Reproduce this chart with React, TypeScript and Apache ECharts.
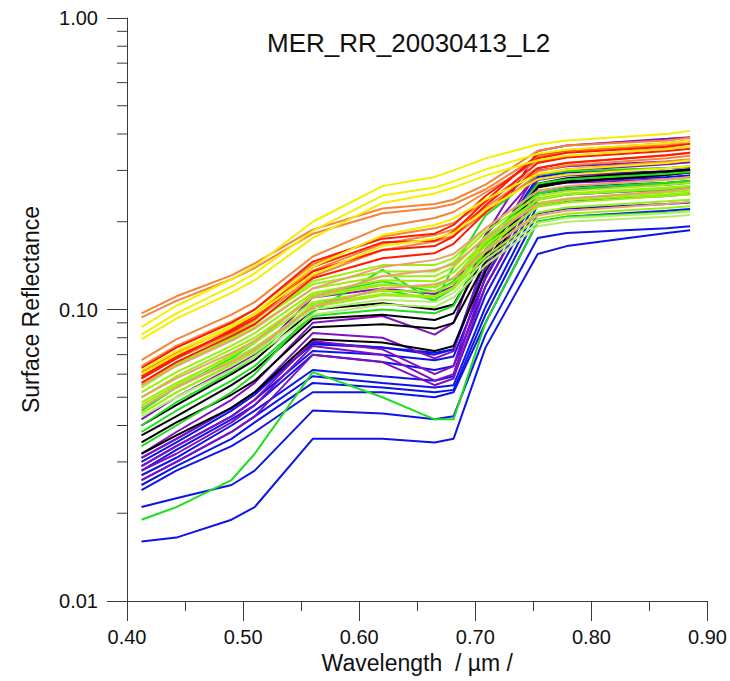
import React, { useEffect, useRef } from "react";
import * as echarts from "echarts";

// MERIS band centres (µm)
const wavelengths = [0.4125, 0.4425, 0.49, 0.51, 0.56, 0.62, 0.665, 0.68125, 0.70875, 0.75375, 0.77875, 0.865, 0.885];

const xTickValues = [0.4, 0.5, 0.6, 0.7, 0.8, 0.9];
const yTickValues = [0.01, 0.1, 1.0];
const yMinorTicks = [0.02, 0.03, 0.04, 0.05, 0.06, 0.07, 0.08, 0.09, 0.2, 0.3, 0.4, 0.5, 0.6, 0.7, 0.8, 0.9];

const blueSpectra = [
  [0.030, 0.035, 0.045, 0.051, 0.077, 0.074, 0.071, 0.073, 0.140, 0.280, 0.290, 0.298, 0.302],
  [0.029, 0.034, 0.043, 0.049, 0.072, 0.070, 0.067, 0.069, 0.128, 0.265, 0.275, 0.285, 0.288],
  [0.028, 0.033, 0.042, 0.047, 0.070, 0.066, 0.062, 0.064, 0.120, 0.255, 0.263, 0.272, 0.276],
  [0.027, 0.031, 0.040, 0.045, 0.062, 0.059, 0.057, 0.059, 0.112, 0.240, 0.248, 0.258, 0.262],
  [0.026, 0.030, 0.038, 0.043, 0.059, 0.056, 0.054, 0.055, 0.102, 0.228, 0.236, 0.245, 0.249],
  [0.025, 0.029, 0.036, 0.041, 0.056, 0.054, 0.052, 0.053, 0.096, 0.214, 0.222, 0.230, 0.233],
  [0.024, 0.028, 0.034, 0.038, 0.052, 0.052, 0.050, 0.052, 0.090, 0.200, 0.208, 0.218, 0.221],
  [0.021, 0.0225, 0.025, 0.028, 0.045, 0.044, 0.042, 0.043, 0.082, 0.176, 0.183, 0.190, 0.193],
  [0.016, 0.0165, 0.019, 0.021, 0.036, 0.036, 0.035, 0.036, 0.074, 0.155, 0.165, 0.183, 0.187],
  [0.031, 0.036, 0.046, 0.052, 0.076, 0.074, 0.070, 0.073, 0.150, 0.285, 0.295, 0.305, 0.308],
];

const purpleSpectra = [
  [0.032, 0.038, 0.049, 0.056, 0.090, 0.095, 0.082, 0.090, 0.180, 0.350, 0.365, 0.385, 0.390],
  [0.031, 0.036, 0.046, 0.052, 0.083, 0.080, 0.068, 0.072, 0.150, 0.300, 0.310, 0.322, 0.326],
  [0.029, 0.034, 0.043, 0.049, 0.078, 0.073, 0.060, 0.064, 0.140, 0.278, 0.288, 0.296, 0.300],
  [0.028, 0.032, 0.041, 0.047, 0.075, 0.070, 0.057, 0.060, 0.130, 0.265, 0.272, 0.280, 0.283],
  [0.042, 0.050, 0.063, 0.070, 0.110, 0.118, 0.113, 0.120, 0.180, 0.290, 0.300, 0.315, 0.320],
  [0.026, 0.030, 0.038, 0.043, 0.070, 0.066, 0.055, 0.058, 0.120, 0.250, 0.258, 0.268, 0.272],
];

const blackSpectra = [
  [0.040, 0.047, 0.060, 0.067, 0.100, 0.105, 0.100, 0.104, 0.160, 0.265, 0.275, 0.290, 0.295],
  [0.037, 0.043, 0.055, 0.062, 0.093, 0.096, 0.092, 0.097, 0.155, 0.270, 0.282, 0.298, 0.303],
  [0.035, 0.041, 0.051, 0.057, 0.087, 0.089, 0.086, 0.090, 0.145, 0.262, 0.273, 0.290, 0.295],
  [0.032, 0.037, 0.046, 0.052, 0.079, 0.077, 0.072, 0.075, 0.135, 0.268, 0.280, 0.296, 0.300],
];

const greenSpectra = [
  [0.045, 0.054, 0.068, 0.077, 0.112, 0.125, 0.115, 0.125, 0.175, 0.250, 0.260, 0.272, 0.276],
  [0.040, 0.048, 0.061, 0.069, 0.104, 0.117, 0.108, 0.118, 0.168, 0.238, 0.248, 0.258, 0.262],
  [0.019, 0.021, 0.026, 0.032, 0.061, 0.050, 0.042, 0.042, 0.090, 0.200, 0.208, 0.215, 0.218],
  [0.034, 0.040, 0.052, 0.060, 0.098, 0.137, 0.106, 0.140, 0.210, 0.290, 0.298, 0.306, 0.310],
  [0.038, 0.045, 0.057, 0.064, 0.095, 0.100, 0.097, 0.103, 0.160, 0.270, 0.280, 0.292, 0.296],
];

const lightGreenSpectra = [
  [0.044, 0.052, 0.064, 0.071, 0.100, 0.108, 0.106, 0.114, 0.148, 0.198, 0.206, 0.214, 0.217],
  [0.043, 0.050, 0.062, 0.069, 0.096, 0.104, 0.102, 0.110, 0.142, 0.193, 0.200, 0.208, 0.211],
];

const yellowGreenSpectra = [
  [0.058, 0.068, 0.082, 0.090, 0.122, 0.135, 0.135, 0.145, 0.185, 0.245, 0.255, 0.268, 0.272],
  [0.055, 0.065, 0.079, 0.087, 0.118, 0.130, 0.130, 0.140, 0.178, 0.238, 0.248, 0.260, 0.265],
  [0.052, 0.061, 0.075, 0.083, 0.114, 0.126, 0.125, 0.134, 0.172, 0.232, 0.240, 0.252, 0.256],
  [0.050, 0.059, 0.073, 0.080, 0.110, 0.121, 0.120, 0.128, 0.165, 0.225, 0.233, 0.245, 0.248],
  [0.048, 0.056, 0.069, 0.077, 0.106, 0.116, 0.115, 0.123, 0.158, 0.215, 0.224, 0.235, 0.238],
  [0.046, 0.054, 0.067, 0.074, 0.102, 0.112, 0.110, 0.118, 0.152, 0.205, 0.213, 0.223, 0.226],
  [0.054, 0.064, 0.080, 0.089, 0.125, 0.142, 0.142, 0.150, 0.190, 0.255, 0.265, 0.278, 0.282],
  [0.047, 0.055, 0.070, 0.078, 0.112, 0.122, 0.119, 0.128, 0.170, 0.240, 0.250, 0.262, 0.266],
  [0.044, 0.052, 0.065, 0.072, 0.104, 0.113, 0.111, 0.119, 0.160, 0.228, 0.237, 0.248, 0.252],
];

const salmonSpectra = [
  [0.055, 0.064, 0.078, 0.086, 0.118, 0.140, 0.148, 0.155, 0.190, 0.255, 0.265, 0.280, 0.285],
  [0.050, 0.058, 0.071, 0.078, 0.110, 0.130, 0.137, 0.143, 0.175, 0.230, 0.240, 0.255, 0.260],
  [0.046, 0.054, 0.066, 0.073, 0.102, 0.118, 0.122, 0.128, 0.160, 0.210, 0.218, 0.230, 0.234],
];

const redSpectra = [
  [0.063, 0.074, 0.090, 0.100, 0.146, 0.175, 0.182, 0.195, 0.245, 0.330, 0.345, 0.362, 0.370],
  [0.059, 0.069, 0.084, 0.093, 0.135, 0.160, 0.165, 0.178, 0.228, 0.318, 0.332, 0.350, 0.356],
  [0.056, 0.066, 0.081, 0.089, 0.128, 0.150, 0.156, 0.168, 0.215, 0.305, 0.318, 0.338, 0.345],
  [0.058, 0.068, 0.085, 0.095, 0.140, 0.170, 0.172, 0.185, 0.235, 0.340, 0.352, 0.372, 0.380],
];

const orangeSpectra = [
  [0.097, 0.111, 0.131, 0.144, 0.188, 0.222, 0.230, 0.238, 0.268, 0.350, 0.365, 0.380, 0.388],
  [0.094, 0.107, 0.127, 0.139, 0.182, 0.214, 0.223, 0.230, 0.258, 0.335, 0.350, 0.366, 0.372],
  [0.067, 0.079, 0.096, 0.106, 0.152, 0.192, 0.206, 0.216, 0.252, 0.322, 0.336, 0.356, 0.362],
  [0.064, 0.075, 0.091, 0.100, 0.143, 0.178, 0.190, 0.198, 0.234, 0.306, 0.319, 0.338, 0.345],
  [0.061, 0.071, 0.086, 0.095, 0.136, 0.168, 0.180, 0.188, 0.224, 0.298, 0.312, 0.330, 0.337],
  [0.058, 0.068, 0.083, 0.092, 0.130, 0.160, 0.171, 0.179, 0.215, 0.290, 0.303, 0.322, 0.328],
];

const yellowSpectra = [
  [0.087, 0.103, 0.127, 0.141, 0.200, 0.265, 0.285, 0.300, 0.330, 0.368, 0.380, 0.400, 0.410],
  [0.082, 0.097, 0.120, 0.133, 0.186, 0.246, 0.262, 0.275, 0.302, 0.342, 0.353, 0.372, 0.380],
  [0.079, 0.093, 0.114, 0.126, 0.176, 0.232, 0.250, 0.262, 0.288, 0.325, 0.337, 0.355, 0.362],
  [0.062, 0.072, 0.088, 0.097, 0.140, 0.180, 0.195, 0.205, 0.238, 0.292, 0.302, 0.318, 0.325],
  [0.060, 0.070, 0.087, 0.096, 0.132, 0.165, 0.175, 0.183, 0.220, 0.280, 0.290, 0.305, 0.310],
];

const groups = [
  { color: "#0c14e8", spectra: blueSpectra },
  { color: "#8010c4", spectra: purpleSpectra },
  { color: "#000000", spectra: blackSpectra },
  { color: "#1fde1f", spectra: greenSpectra },
  { color: "#b4ee6c", spectra: lightGreenSpectra },
  { color: "#9cee10", spectra: yellowGreenSpectra },
  { color: "#eaa070", spectra: salmonSpectra },
  { color: "#f5843a", spectra: orangeSpectra },
  { color: "#ff1a00", spectra: redSpectra },
  { color: "#f6ee00", spectra: yellowSpectra },
];

const FONT = "Liberation Sans, Arial, Helvetica, sans-serif";
const AXIS_COLOR = "#3a3a3a";

export default function App() {
  const ref = useRef<HTMLDivElement>(null);

  useEffect(() => {
    if (!ref.current) return;
    const chart = echarts.init(ref.current, undefined, { renderer: "svg" });

    const lineSeries: any[] = [];
    groups.forEach((g) => {
      g.spectra.forEach((vals) => {
        lineSeries.push({
          type: "line",
          data: wavelengths.map((w, i) => [w, vals[i]]),
          showSymbol: false,
          symbol: "none",
          silent: true,
          lineStyle: { color: g.color, width: 2 },
          itemStyle: { color: g.color },
        });
      });
    });

    const minorTickSeries = {
      type: "custom",
      coordinateSystem: "cartesian2d",
      silent: true,
      clip: false,
      z: 10,
      data: yMinorTicks.map((v) => [xTickValues[0], v]),
      renderItem: (_params: any, api: any) => {
        const p = api.coord([api.value(0), api.value(1)]);
        return {
          type: "line",
          shape: { x1: p[0] - 10, y1: p[1], x2: p[0], y2: p[1] },
          style: { stroke: AXIS_COLOR, lineWidth: 1 },
        };
      },
    };

    chart.setOption({
      animation: false,
      backgroundColor: "#ffffff",
      title: {
        text: "MER_RR_20030413_L2",
        left: 262,
        top: 25,
        textStyle: { fontSize: 26, fontWeight: "normal", color: "#111", fontFamily: FONT },
      },
      grid: { left: 127, right: 21, top: 18, bottom: 80, containLabel: false },
      xAxis: {
        type: "value",
        min: xTickValues[0],
        max: xTickValues[xTickValues.length - 1],
        interval: 0.1,
        name: "Wavelength  / µm /",
        nameLocation: "middle",
        nameGap: 50,
        nameTextStyle: { fontSize: 23, color: "#111", fontFamily: FONT },
        axisLine: { show: true, lineStyle: { color: AXIS_COLOR, width: 1 } },
        axisTick: { show: true, inside: false, length: 20, lineStyle: { color: AXIS_COLOR } },
        minorTick: { show: true, splitNumber: 2, length: 10, lineStyle: { color: AXIS_COLOR } },
        splitLine: { show: false },
        minorSplitLine: { show: false },
        axisLabel: {
          fontSize: 20,
          color: "#111",
          fontFamily: FONT,
          margin: 26,
          formatter: (v: number) => v.toFixed(2),
        },
      },
      yAxis: {
        type: "log",
        logBase: 10,
        min: yTickValues[0],
        max: yTickValues[yTickValues.length - 1],
        name: "Surface Reflectance",
        nameLocation: "middle",
        nameGap: 85,
        nameTextStyle: { fontSize: 23, color: "#111", fontFamily: FONT },
        axisLine: { show: true, lineStyle: { color: AXIS_COLOR, width: 1 } },
        axisTick: { show: true, inside: false, length: 20, lineStyle: { color: AXIS_COLOR } },
        splitLine: { show: false },
        axisLabel: {
          fontSize: 20,
          color: "#111",
          fontFamily: FONT,
          margin: 29,
          formatter: (v: number) => v.toFixed(2),
        },
      },
      series: [...lineSeries, minorTickSeries],
    });

    return () => chart.dispose();
  }, []);

  return (
    <div
      ref={ref}
      style={{ position: "absolute", left: 0, top: 0, width: 730, height: 681, background: "#fff" }}
    />
  );
}
